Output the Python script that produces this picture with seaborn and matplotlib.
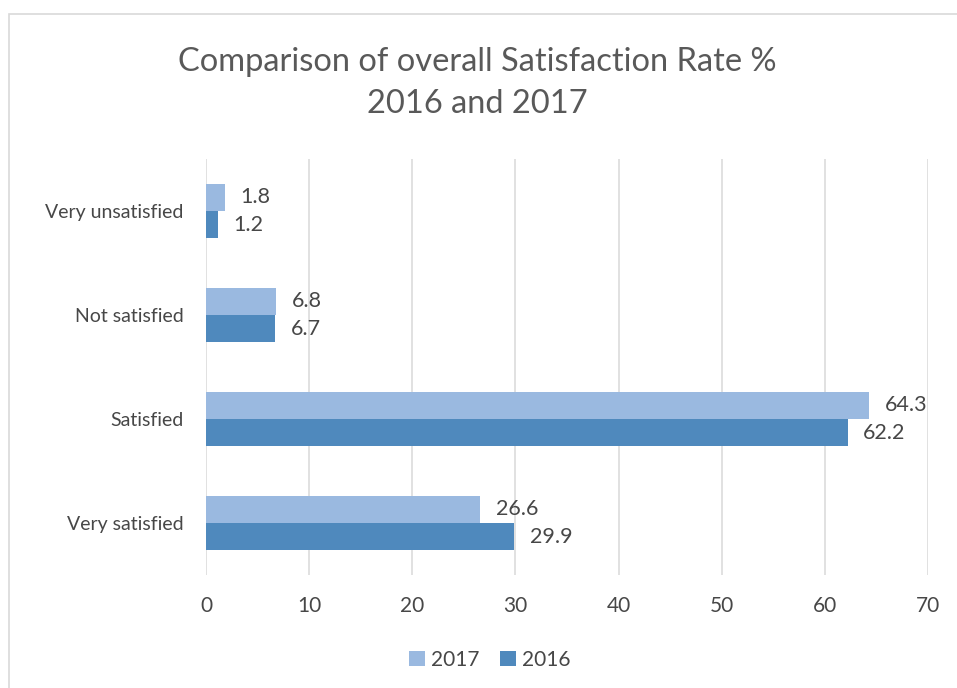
import matplotlib
matplotlib.use("Agg")
import matplotlib.pyplot as plt
from matplotlib.patches import Rectangle
import seaborn as sns
import pandas as pd

categories = ["Very unsatisfied", "Not satisfied", "Satisfied", "Very satisfied"]
years = ["2017", "2016"]
values_2017 = [1.8, 6.8, 64.3, 26.6]
values_2016 = [1.2, 6.7, 62.2, 29.9]
x_ticks = [0, 10, 20, 30, 40, 50, 60, 70]

colors = {"2017": "#9AB9E0", "2016": "#4F89BD"}
title_color = "#595959"
text_color = "#474747"
grid_color = "#D9D9D9"

df = pd.DataFrame({
    "category": categories * 2,
    "year": ["2017"] * len(categories) + ["2016"] * len(categories),
    "value": values_2017 + values_2016,
})

sns.set_theme(style="white")
plt.rcParams["font.family"] = ["Lato", "DejaVu Sans"]

fig = plt.figure(figsize=(9.57, 6.88), dpi=100)
ax = fig.add_axes([206 / 957, 113 / 688, 722 / 957, 416 / 688])

sns.barplot(data=df, y="category", x="value", hue="year",
            order=categories, hue_order=years, palette=colors,
            orient="h", width=0.52, saturation=1, ax=ax, legend=True,
            edgecolor="none", linewidth=0)

# value labels at the end of each bar
for container, yr in zip(ax.containers, years):
    vals = values_2017 if yr == "2017" else values_2016
    for bar, v in zip(container, vals):
        ax.annotate(f"{v:.1f}", xy=(bar.get_width(), bar.get_y() + bar.get_height() / 2),
                    xytext=(11, 0), textcoords="offset points",
                    va="center", ha="left", fontsize=15.5, color=text_color)

ax.set_xlim(0, 70)
ax.set_xticks(x_ticks)
ax.set_xticklabels([str(t) for t in x_ticks])
ax.set_xlabel("")
ax.set_ylabel("")
ax.tick_params(axis="both", length=0, colors=text_color)
ax.tick_params(axis="x", pad=15, labelsize=15)
ax.tick_params(axis="y", pad=16, labelsize=14)
ax.xaxis.grid(True, color=grid_color, linewidth=1.1)
ax.yaxis.grid(False)
ax.set_axisbelow(True)
for s in ax.spines.values():
    s.set_visible(False)

handles, labels = ax.get_legend_handles_labels()
ax.legend_.remove()
fig.legend(handles, labels, loc="center", bbox_to_anchor=(490 / 957, 1 - 660 / 688),
           ncol=2, frameon=False, fontsize=15, labelcolor=text_color,
           handlelength=0.75, handleheight=0.75, handletextpad=0.3, columnspacing=1.0)

fig.text(477 / 957, 1 - 62 / 688, "Comparison of overall Satisfaction Rate %",
         ha="center", va="center", fontsize=23.5, color=title_color)
fig.text(477 / 957, 1 - 104 / 688, "2016 and 2017",
         ha="center", va="center", fontsize=23.5, color=title_color)

# chart frame
fig.patches.append(Rectangle((9 / 957, -0.05), 1.2, 1 - 14 / 688 + 0.05,
                             transform=fig.transFigure, fill=False,
                             edgecolor=grid_color, linewidth=1.2, clip_on=False))

fig.savefig("out.png", dpi=100, facecolor="white")
